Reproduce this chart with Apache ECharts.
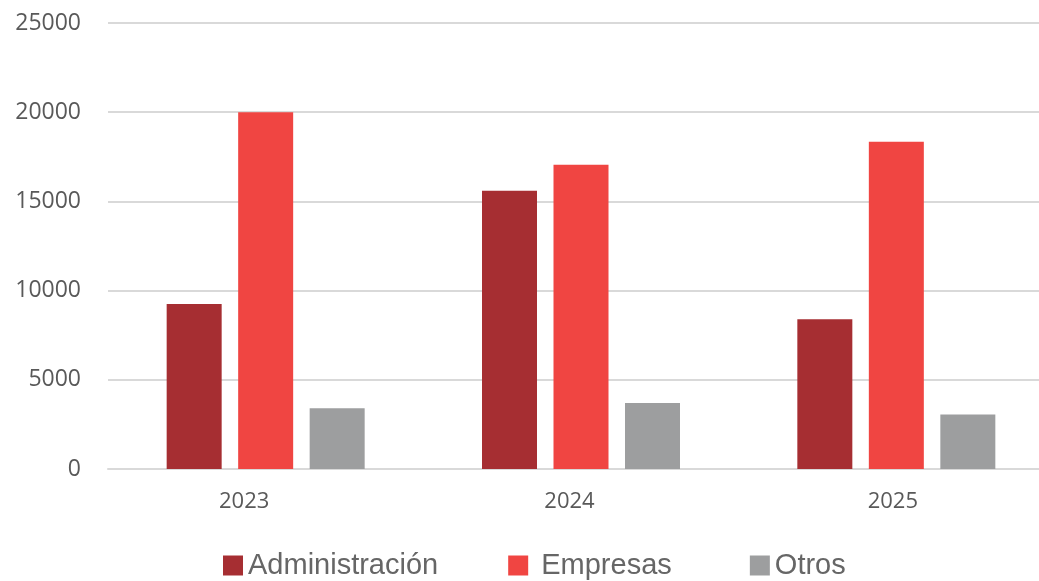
<!DOCTYPE html>
<html>
<head>
<meta charset="utf-8">
<script src="https://cdn.jsdelivr.net/npm/echarts@6/dist/echarts.min.js"></script>
<style>
  html, body { margin: 0; padding: 0; background: #fff; }
  #chart { width: 1039px; height: 581px; }
</style>
</head>
<body>
<div id="chart"></div>
<script>
var years = ["2023", "2024", "2025"];
var administracion = [9250, 15600, 8400];
var empresas = [20000, 17050, 18350];
var otros = [3400, 3700, 3050];
var yTicks = [0, 5000, 10000, 15000, 20000, 25000];

// Excel dejó las etiquetas del eje x un poco corridas a la izquierda
var labelShift = [43, 23, 7];

var chart = echarts.init(document.getElementById("chart"));

var option = {
  backgroundColor: "#fff",
  animation: false,
  grid: {
    left: 108,
    top: 23,
    width: 946,
    height: 446,
    outerBoundsMode: "none"
  },
  legend: {
    data: ["Administración", "Empresas", "Otros"],
    left: 218,
    top: 546,
    icon: "rect",
    itemWidth: 20,
    itemHeight: 20,
    itemGap: 70,
    // en el original "Empresas" lleva espacios alrededor
    formatter: function (name) {
      return name === "Empresas" ? " " + name + " " : name;
    },
    textStyle: {
      color: "#666",
      fontSize: 29,
      fontFamily: "Liberation Sans"
    }
  },
  xAxis: {
    type: "category",
    data: years,
    axisLine: { show: true, lineStyle: { color: "#d9d9d9", width: 2 } },
    axisTick: { show: false },
    axisLabel: {
      margin: 22,
      color: "#595959",
      fontSize: 22,
      fontFamily: "Open Sans",
      formatter: function (v) {
        return "{s" + years.indexOf(v) + "|" + v + "}";
      },
      rich: {
        s0: { color: "#595959", fontSize: 22, fontFamily: "Open Sans", padding: [0, labelShift[0], 0, 0] },
        s1: { color: "#595959", fontSize: 22, fontFamily: "Open Sans", padding: [0, labelShift[1], 0, 0] },
        s2: { color: "#595959", fontSize: 22, fontFamily: "Open Sans", padding: [0, labelShift[2], 0, 0] }
      }
    }
  },
  yAxis: {
    type: "value",
    min: yTicks[0],
    max: yTicks[yTicks.length - 1],
    interval: yTicks[1] - yTicks[0],
    axisLine: { show: false },
    axisTick: { show: false },
    splitLine: { lineStyle: { color: "#d9d9d9", width: 2 } },
    axisLabel: {
      margin: 27,
      color: "#595959",
      fontSize: 23,
      fontFamily: "Open Sans",
      formatter: function (v) { return String(v); }
    }
  },
  series: [
    {
      name: "Administración",
      type: "bar",
      barWidth: 55,
      barGap: "30%",
      itemStyle: { color: "#a62e32" },
      data: administracion
    },
    {
      name: "Empresas",
      type: "bar",
      barWidth: 55,
      barGap: "30%",
      itemStyle: { color: "#f04542" },
      data: empresas
    },
    {
      name: "Otros",
      type: "bar",
      barWidth: 55,
      barGap: "30%",
      itemStyle: { color: "#9d9e9f" },
      data: otros
    }
  ]
};

chart.setOption(option);
</script>
</body>
</html>
